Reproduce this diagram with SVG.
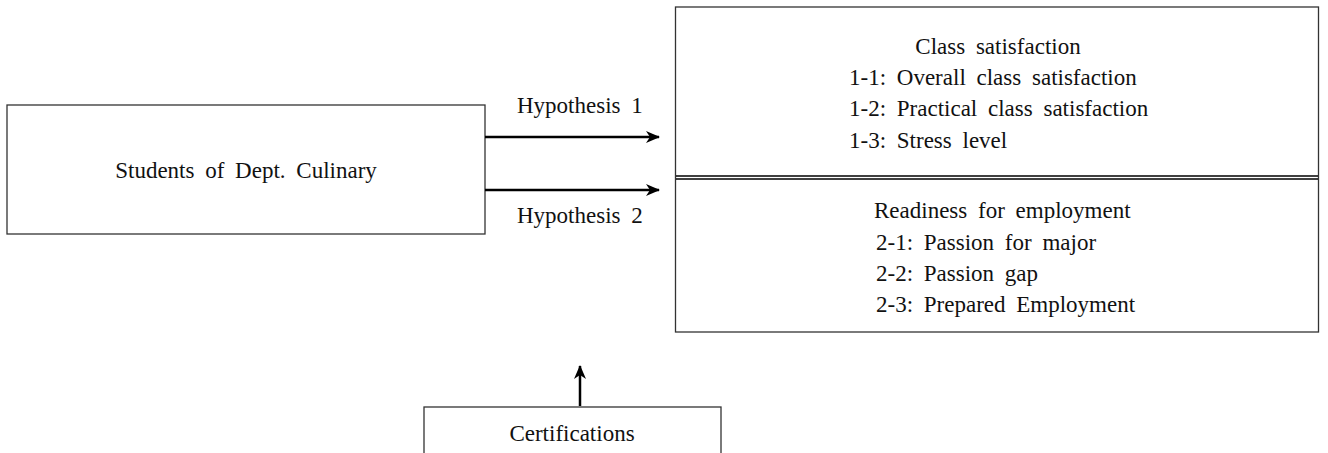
<svg xmlns="http://www.w3.org/2000/svg" width="1328" height="453" viewBox="0 0 1328 453">
<style>
.box{fill:#fff;stroke:#333;stroke-width:1.3}
.t{font-family:"Liberation Serif","Times New Roman",serif;font-size:23px;fill:#111;word-spacing:5px}
.c{stroke:#000;stroke-width:2.5;fill:none}
.dl{stroke:#000;stroke-width:1.3}
</style>
<defs>
<marker id="ah" viewBox="0 0 14 12" refX="13" refY="6" markerWidth="14" markerHeight="12" markerUnits="userSpaceOnUse" orient="auto">
<path d="M0,0 L14,6 L0,12 L4,6 Z" fill="#000"/>
</marker>
</defs>
<g id="students">
<rect class="box" x="7" y="105" width="478" height="129"/>
<text class="t" x="246" y="178" text-anchor="middle">Students of Dept. Culinary</text>
</g>
<g id="outcomes">
<rect class="box" x="675.5" y="7" width="643" height="325"/>
<line class="dl" x1="676" y1="176" x2="1318" y2="176"/>
<line class="dl" x1="676" y1="179" x2="1318" y2="179"/>
</g>
<g id="class-satisfaction">
<text class="t" x="998" y="54" text-anchor="middle">Class satisfaction</text>
<text class="t" x="849" y="85">1-1: Overall class satisfaction</text>
<text class="t" x="849" y="116">1-2: Practical class satisfaction</text>
<text class="t" x="849" y="148">1-3: Stress level</text>
</g>
<g id="readiness">
<text class="t" x="874" y="218">Readiness for employment</text>
<text class="t" x="876" y="250">2-1: Passion for major</text>
<text class="t" x="876" y="281">2-2: Passion gap</text>
<text class="t" x="876" y="312">2-3: Prepared Employment</text>
</g>
<g id="certifications">
<rect class="box" x="424" y="407" width="297" height="60"/>
<text class="t" x="572" y="441" text-anchor="middle">Certifications</text>
</g>
<g id="connectors">
<line class="c" x1="485" y1="137" x2="659" y2="137" marker-end="url(#ah)"/>
<line class="c" x1="485" y1="190" x2="659" y2="190" marker-end="url(#ah)"/>
<line class="c" x1="580" y1="406" x2="580" y2="366" marker-end="url(#ah)"/>
<text class="t" x="517" y="113">Hypothesis 1</text>
<text class="t" x="517" y="223">Hypothesis 2</text>
</g>
</svg>
